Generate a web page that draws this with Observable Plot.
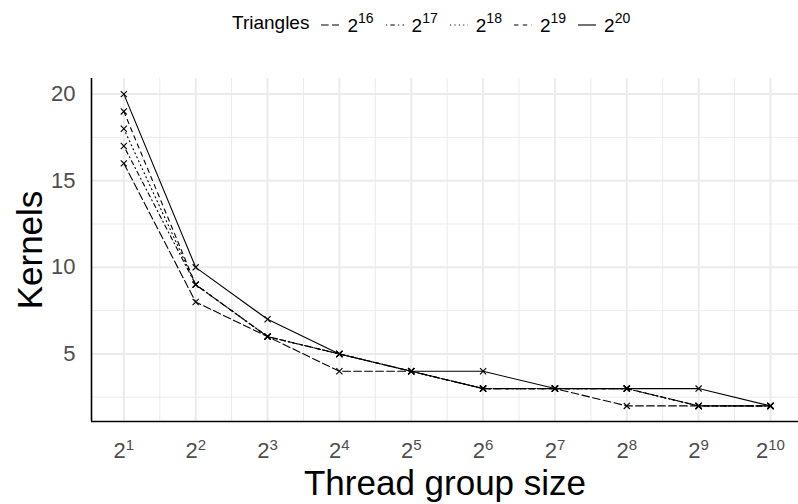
<!DOCTYPE html>
<html>
<head>
<meta charset="utf-8">
<script src="https://cdn.jsdelivr.net/npm/d3@7"></script>
<script src="https://cdn.jsdelivr.net/npm/@observablehq/plot@0.6"></script>
<style>
  html, body { margin: 0; padding: 0; background: #fff; }
  body { width: 798px; height: 504px; overflow: hidden; font-family: "Liberation Sans", Arial, sans-serif; }
  #legend { height: 45px; position: relative; }
  #legend .row { position: absolute; left: 232px; top: 11px; height: 24px; display: flex; align-items: center; font-size: 19px; line-height: 24px; color: #000; white-space: nowrap; }
  #legend .title { margin-right: 12px; }
  #legend .key { width: 18px; height: 10px; margin-right: 8px; margin-top: 4px; }
  #legend .lab { margin-right: 12px; }
  #legend sup { font-size: 14px; position: relative; top: -2px; }
</style>
</head>
<body>
<div id="legend"><div class="row" id="legendRow"><span class="title">Triangles</span></div></div>
<div id="chart"></div>
<script>
// Thread group sizes as powers of two (exponents)
const exponents = [1, 2, 3, 4, 5, 6, 7, 8, 9, 10];
// Number of kernels per triangle count
const k16 = [16, 8, 6, 4, 4, 3, 3, 2, 2, 2];
const k17 = [17, 9, 6, 5, 4, 3, 3, 3, 2, 2];
const k18 = [18, 9, 6, 5, 4, 3, 3, 3, 2, 2];
const k19 = [19, 9, 6, 5, 4, 3, 3, 3, 2, 2];
const k20 = [20, 10, 7, 5, 4, 4, 3, 3, 3, 2];
const seriesNames = ["16", "17", "18", "19", "20"];
const seriesValues = [k16, k17, k18, k19, k20];
const yTicks = [5, 10, 15, 20];

// Line dash pattern for each triangle count
const dashes = {"16": "7.7,3.3", "17": "1.1,3.3,4.4,3.3", "18": "1.1,3.3", "19": "4.4,4.4", "20": null};

const rows = seriesNames.flatMap((s, i) =>
  exponents.map((e, j) => ({series: s, e, k: seriesValues[i][j]})));

const W = 798, H = 459;
const mL = 91, mT = 33, mB = 83, mR = 0;

const majorX = exponents;
const minorX = exponents.slice(0, -1).map(e => e + 0.5);
const minorY = [2.5, 7.5, 12.5, 17.5];

const marks = [
  Plot.ruleX(minorX, {stroke: "#ebebeb", strokeWidth: 1}),
  Plot.ruleY(minorY, {stroke: "#ebebeb", strokeWidth: 1}),
  Plot.ruleX(majorX, {stroke: "#ebebeb", strokeWidth: 2}),
  Plot.ruleY(yTicks, {stroke: "#ebebeb", strokeWidth: 2}),
  Plot.axisX(exponents, {tickSize: 0, tickPadding: 21, fontSize: 22, color: "#4d4d4d", label: null, tickFormat: d => String(d)}),
  Plot.axisY(yTicks, {tickSize: 0, tickPadding: 16, fontSize: 22, color: "#4d4d4d", label: null}),
];
for (const s of seriesNames) {
  const data = rows.filter(d => d.series === s);
  marks.push(Plot.line(data, {x: "e", y: "k", stroke: "#000", strokeWidth: 1.1,
    strokeDasharray: dashes[s] || undefined, strokeLinejoin: "round"}));
}
marks.push(Plot.dot(rows, {x: "e", y: "k", symbol: "times", r: 2.9, stroke: "#000", strokeWidth: 1.1}));
marks.push(Plot.ruleX([0.55], {stroke: "#000", strokeWidth: 1.6}));
marks.push(Plot.ruleY([1.1], {stroke: "#000", strokeWidth: 1.6}));
marks.push(Plot.text(["Thread group size"], {frameAnchor: "bottom", lineAnchor: "middle", textAnchor: "middle", dy: 62, fontSize: 35, fill: "#000"}));
marks.push(Plot.text(["Kernels"], {frameAnchor: "left", lineAnchor: "middle", textAnchor: "middle", dx: -61, rotate: -90, fontSize: 35, fill: "#000"}));

const chart = Plot.plot({
  width: W, height: H,
  marginLeft: mL, marginRight: mR, marginTop: mT, marginBottom: mB,
  style: {fontFamily: "'Liberation Sans', Arial, sans-serif", background: "#fff"},
  x: {type: "linear", domain: [0.55, 10.39]},
  y: {domain: [1.1, 20.9]},
  marks
});

// Render tick labels as powers of two with superscript exponents
chart.querySelectorAll('g[aria-label="x-axis tick label"] text').forEach(t => {
  const e = t.textContent;
  t.textContent = "";
  const base = document.createElementNS("http://www.w3.org/2000/svg", "tspan");
  base.textContent = "2";
  const sup = document.createElementNS("http://www.w3.org/2000/svg", "tspan");
  sup.textContent = e;
  sup.setAttribute("font-size", "15");
  sup.setAttribute("dy", "-8");
  t.appendChild(base);
  t.appendChild(sup);
});
document.getElementById("chart").appendChild(chart);

// Legend: linetype keys for each triangle count
const row = document.getElementById("legendRow");
for (const s of seriesNames) {
  const key = document.createElementNS("http://www.w3.org/2000/svg", "svg");
  key.setAttribute("class", "key");
  key.setAttribute("width", 18);
  key.setAttribute("height", 10);
  const ln = document.createElementNS("http://www.w3.org/2000/svg", "line");
  ln.setAttribute("x1", 0); ln.setAttribute("x2", 18);
  ln.setAttribute("y1", 5); ln.setAttribute("y2", 5);
  ln.setAttribute("stroke", "#000");
  ln.setAttribute("stroke-width", 1.1);
  if (dashes[s]) ln.setAttribute("stroke-dasharray", dashes[s]);
  key.appendChild(ln);
  row.appendChild(key);
  const lab = document.createElement("span");
  lab.className = "lab";
  lab.innerHTML = "2<sup>" + s + "</sup>";
  row.appendChild(lab);
}
</script>
</body>
</html>
